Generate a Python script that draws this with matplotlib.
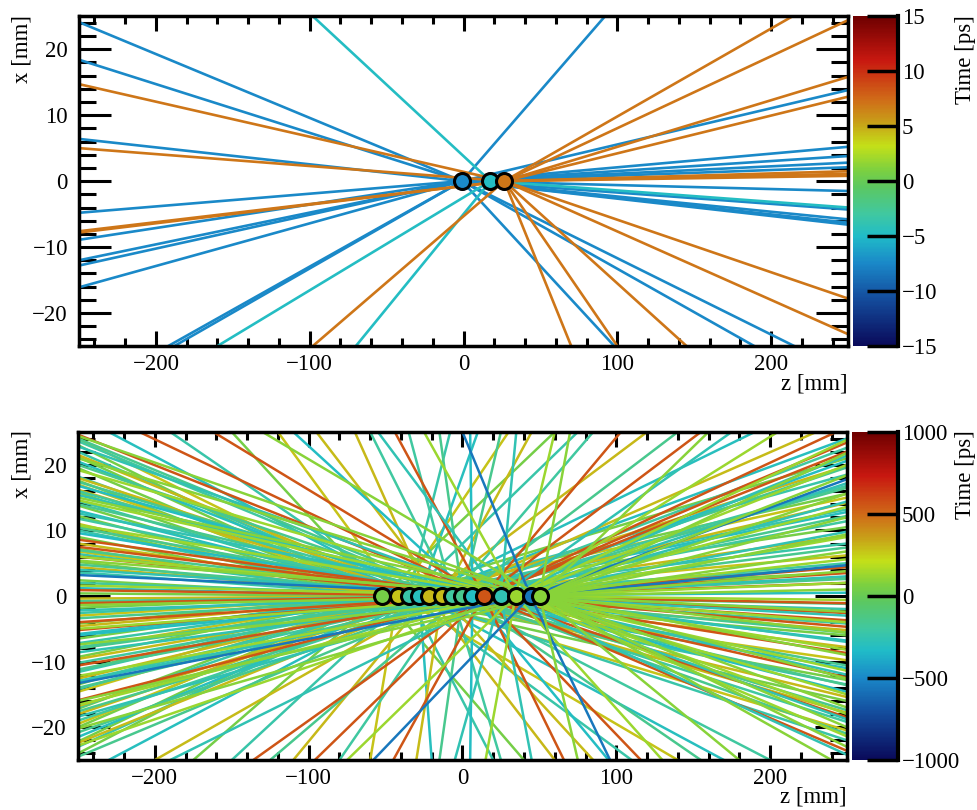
import matplotlib
matplotlib.use('Agg')
import matplotlib.pyplot as plt
from matplotlib.colors import LinearSegmentedColormap, Normalize
from matplotlib.cm import ScalarMappable
from matplotlib.ticker import MultipleLocator

plt.rcParams['font.family'] = ['Liberation Serif', 'DejaVu Serif']
plt.rcParams['font.size'] = 16.5

ZMIN, ZMAX, XMIN, XMAX = -250, 250, -25, 25

# palette (fraction of range, colour)
pal_pos = [0.0, 0.15, 0.25, 0.333, 0.40, 0.483, 0.533, 0.607, 0.677, 0.75, 0.867, 1.0]
pal_col = ['#0a0a5a', '#1450a0', '#1a88c8', '#20bcc8', '#40c8a0', '#5cc860',
           '#7cd040', '#c4e018', '#c8a018', '#d06a18', '#c81810', '#6e0000']
cmap = LinearSegmentedColormap.from_list('vtx', list(zip(pal_pos, pal_col)))

# ---- top panel: 3 vertices, time in ps ----
top_vz = [-1.0, 17.5, 26.5]
top_vt = [-7.5, -4.8, 7.0]
# track exit points: x at z=-250, x at z=+250, z at x=+25, z at x=-25
top_left = [[24.1, 18.4, 6.4, -4.8, -8.9, -12.0, -12.8, -16.1],
            [],
            [14.7, 5.0, -7.8, -7.6]]
top_right = [[13.8, 5.2, 3.8, 2.8, 2.1, -1.5, -4.3, -5.8, -6.3, -6.6],
             [-4.0],
             [24.4, 15.8, 12.8, 1.5, 1.1, 0.8, -17.8, -23.2]]
top_top = [[92], [-98], [214]]
top_bottom = [[-192, -188, 98, 189, 215],
              [-160, -70],
              [-98, 70, 100, 145]]

# ---- bottom panel: 14 vertices, time in ps ----
bot_vz = [-52, -42, -35, -28, -22, -13, -6.5, 0, 6.5, 13.7, 24.8, 34.5, 44.3, 50.2]
bot_vt = [40, 280, -230, -300, 300, 290, -200, -150, -320, 560, -260, 130, -560, 90]
bot_left = [
    [23.0, 21.2, 19.5, 17.6, 15.8, 13.8, 12.2, 10.6, 9.0, 7.2, 5.2, 2.4, 0.4, -1.8,
     -4.2, -6.5, -9.3, -11.4, -13.5, -17.2, -20.0, -22.2, -24.0],
    [24.0, 17.0, 11.0, 6.8, -3.0, -8.0, -14.6, -19.5],
    [22.0, 18.2, 14.5, 10.0, 6.4, 3.6, -2.6, -7.2, -11.6, -14.2, -17.0, -23.0],
    [20.5, 13.0, 1.2, -5.8, -21.5],
    [21.5, 16.2, 4.4, -4.6, -12.6, -18.0],
    [18.0, 8.0, -0.4, -9.6, -16.8, -22.4],
    [23.6, 16.0, 11.8, 2.0, -7.8, -10.2, -13.0, -19.0],
    [24.0, 20.0, 17.4, 14.0, 10.4, 7.0, 4.8, -0.8, -3.4, -8.0, -11.2, -14.0,
     -17.6, -20.8, -24.5],
    [16.8, 9.6, -6.0],
    [24.6, 8.6, 7.5, 6.0, 0.9, -1.1, -4.0, -5.2, -10.6, -15.9],
    [22.8, 15.4, 12.6, 4.0, -2.2, -8.6, -13.0, -18.4],
    [19.2, 14.6, 10.8, 6.0, 1.6, -5.0, -12.2, -16.6, -22.8],
    [3.2, -13.3],
    [24.4, 21.0, 15.0, 5.4, -1.4, -7.4, -16.0, -20.2],
]
bot_right = [
    [21.0, 15.6, 10.5, 3.6, -6.0, -12.8, -16.0],
    [15.0, 6.2, -9.8, -20.5],
    [18.5, 13.2, 8.0, 4.4, -2.0, -13.5, -22.0],
    [24.0, 12.8, 0.5, -11.0],
    [19.8, 9.2, -5.2, -15.4],
    [14.2, 2.8, -7.8, -17.8],
    [22.6, 16.8, 11.4, 5.0, -4.2, -19.2],
    [19.6, 16.5, 12.2, 7.4, 2.6, -1.2, -5.6, -10.6, -13.6, -17.4, -21.0],
    [20.6, -6.8, -14.6],
    [23.4, 22.0, 4.4, 3.5, 2.0, -1.1, -2.6, -3.7, -4.7, -8.7, -12.4, -18.5, -23.6],
    [21.4, 17.2, 14.4, 9.8, 3.0, -3.0, -7.0, -12.0, -18.8, -24.2],
    [23.8, 20.0, 13.6, 9.0, 5.6, 2.0, -0.6, -4.0, -8.2, -11.4, -15.0, -18.0, -21.4],
    [17.8, 4.7],
    [21.8, 18.4, 15.6, 12.0, 9.4, 6.8, 3.8, 1.0, -2.4, -5.6, -9.0, -12.6, -17.0,
     -20.0, -23.0],
]
bot_top = [
    [-150, 60], [-120, 30], [-8, 75, -190], [10, -230, 190], [-70, 120],
    [-95, 45, 230], [-35, 85, -60], [-15, 25, 140], [5, -110],
    [-210, -162, -44, 103, 155, 243], [-55, 35, 175], [-25, 60, 205],
    [0], [70, 160, -130],
]
bot_bottom = [
    [-175, 40], [-60, 140], [-150, 20, 110], [-20, 170, -230], [-110, 60],
    [-200, -30, 85], [-80, 25, 200], [-15, -125, 155], [5, 95],
    [-96, -45, -136, 66, 116], [-5, 45, -190], [15, 130, -75],
    [-58, 96], [75, 180, 240],
]


def style_axes(ax):
    ax.set_xlim(ZMIN, ZMAX)
    ax.set_ylim(XMIN, XMAX)
    ax.xaxis.set_major_locator(MultipleLocator(100))
    ax.xaxis.set_minor_locator(MultipleLocator(20))
    ax.yaxis.set_major_locator(MultipleLocator(10))
    ax.yaxis.set_minor_locator(MultipleLocator(2))
    ax.tick_params(axis='both', which='both', direction='in', top=True, right=True,
                   width=2.2, labelsize=16.5)
    ax.tick_params(axis='x', which='major', length=11, pad=6)
    ax.tick_params(axis='x', which='minor', length=6)
    ax.tick_params(axis='y', which='major', length=23, pad=8)
    ax.tick_params(axis='y', which='minor', length=12)
    for s in ax.spines.values():
        s.set_linewidth(2.5)


def draw_event(ax, vz, vt, left, right, top, bottom, norm, lw):
    for i in range(len(vz)):
        col = cmap(norm(vt[i]))
        for x in left[i]:
            ax.plot([vz[i], ZMIN], [0, x], color=col, lw=lw)
        for x in right[i]:
            ax.plot([vz[i], ZMAX], [0, x], color=col, lw=lw)
        for z in top[i]:
            ax.plot([vz[i], z], [0, XMAX], color=col, lw=lw)
        for z in bottom[i]:
            ax.plot([vz[i], z], [0, XMIN], color=col, lw=lw)
    for i in range(len(vz)):
        ax.plot(vz[i], 0, 'o', ms=11.5, mfc=cmap(norm(vt[i])), mec='k', mew=2.2, zorder=5)


def add_colorbar(fig, rect, norm, ticks):
    cax = fig.add_axes(rect)
    cb = fig.colorbar(ScalarMappable(norm=norm, cmap=cmap), cax=cax, ticks=ticks)
    cb.outline.set_visible(False)
    cax.plot([1, 1], [0, 1], transform=cax.transAxes, color='k', lw=3, clip_on=False)
    cax.tick_params(direction='in', length=22, width=2.5, right=True, left=False,
                    labelsize=16.5, pad=3)
    cax.minorticks_off()
    return cax


fig = plt.figure(figsize=(9.77, 8.10), dpi=100)

ax1 = fig.add_axes([0.0809, 0.5728, 0.7871, 0.4072])
norm1 = Normalize(-15, 15)
draw_event(ax1, top_vz, top_vt, top_left, top_right, top_top, top_bottom, norm1, 1.9)
style_axes(ax1)
add_colorbar(fig, [0.873, 0.5728, 0.046, 0.4072], norm1, [-15, -10, -5, 0, 5, 10, 15])

ax2 = fig.add_axes([0.0798, 0.0617, 0.7871, 0.405])
norm2 = Normalize(-1000, 1000)
draw_event(ax2, bot_vz, bot_vt, bot_left, bot_right, bot_top, bot_bottom, norm2, 1.8)
style_axes(ax2)
add_colorbar(fig, [0.872, 0.0617, 0.047, 0.405], norm2, [-1000, -500, 0, 500, 1000])

# axis titles, ROOT style at the axis ends
fig.text(0.868, 1 - 374 / 810, 'z [mm]', ha='right', va='top', fontsize=16.5)
fig.text(0.867, 1 - 786 / 810, 'z [mm]', ha='right', va='top', fontsize=16.5)
fig.text(22 / 977, 1 - 15 / 810, 'x [mm]', rotation=90, ha='center', va='top', fontsize=16.5)
fig.text(22 / 977, 1 - 430 / 810, 'x [mm]', rotation=90, ha='center', va='top', fontsize=16.5)
fig.text(965 / 977, 1 - 15 / 810, 'Time [ps]', rotation=90, ha='center', va='top', fontsize=16.5)
fig.text(965 / 977, 1 - 430 / 810, 'Time [ps]', rotation=90, ha='center', va='top', fontsize=16.5)

fig.savefig('out.png', dpi=100)
